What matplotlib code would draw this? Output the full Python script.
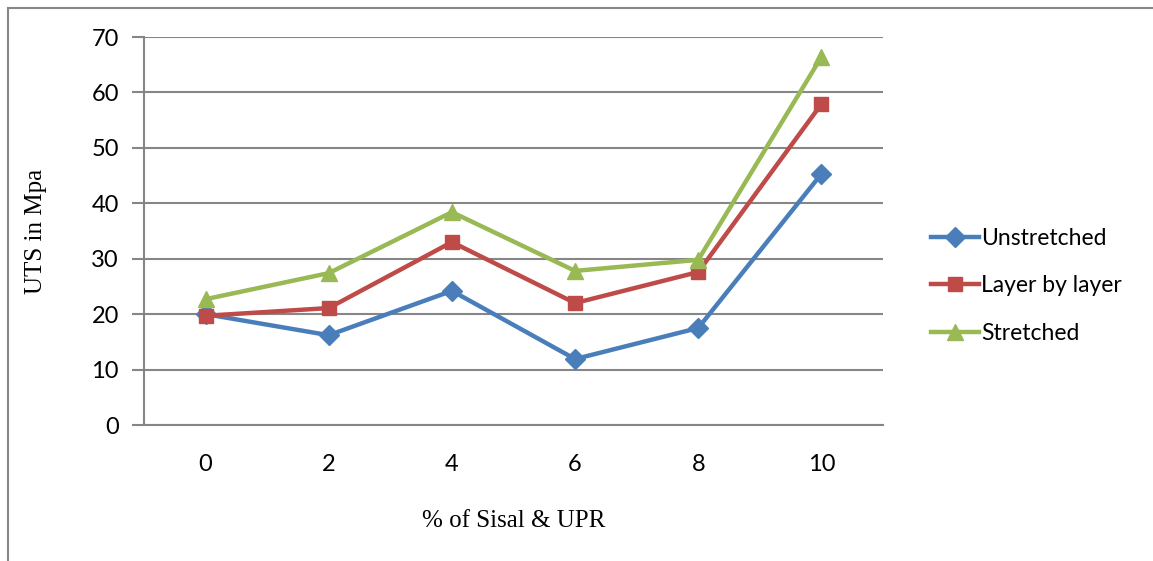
import matplotlib.pyplot as plt
from matplotlib.patches import Rectangle

# data
categories = ['0', '2', '4', '6', '8', '10']
unstretched = [20.0, 16.2, 24.2, 11.9, 17.5, 45.3]
layer_by_layer = [19.7, 21.1, 33.0, 22.0, 27.6, 57.9]
stretched = [22.7, 27.4, 38.4, 27.8, 29.8, 66.4]

W, H = 1153, 561
fig = plt.figure(figsize=(W / 100, H / 100), dpi=100)

# outer chart border (Excel style)
fig.patches.append(Rectangle((8 / W, -0.1), 1.2, 1 - 8 / H + 0.1, transform=fig.transFigure,
                             fill=False, edgecolor='#868686', lw=1.5))

ax = fig.add_axes([144 / W, 1 - 425 / H, (883 - 144) / W, (425 - 37) / H])

x = list(range(len(categories)))
ax.plot(x, unstretched, color='#4A7EBB', lw=3.2, marker='D', ms=10, label='Unstretched')
ax.plot(x, layer_by_layer, color='#BE4B48', lw=3.2, marker='s', ms=10, label='Layer by layer')
ax.plot(x, stretched, color='#98B954', lw=3.2, marker='^', ms=12, label='Stretched')

ax.set_xlim(-0.5, 5.5)
ax.set_ylim(0, 70)
ax.set_yticks(range(0, 71, 10))
ax.set_xticks(x)
ax.set_xticklabels(categories)
ax.yaxis.grid(True, color='#868686', lw=1.5)
ax.set_axisbelow(True)

for s in ['top', 'right']:
    ax.spines[s].set_visible(False)
ax.spines['left'].set_color('#868686')
ax.spines['bottom'].set_color('#868686')
ax.spines['left'].set_linewidth(1.5)
ax.spines['bottom'].set_linewidth(1.5)
ax.tick_params(axis='y', length=9, width=1.5, color='#868686', pad=9, labelsize=17)
ax.tick_params(axis='x', length=0, pad=21, labelsize=17)
for lab in ax.get_xticklabels() + ax.get_yticklabels():
    lab.set_family('Lato')

ax.set_ylabel('UTS in Mpa', family='Liberation Serif', fontsize=18, labelpad=32)
ax.set_xlabel('% of Sisal & UPR', family='Liberation Serif', fontsize=18, labelpad=25)

leg = fig.legend(loc='center left', bbox_to_anchor=(910 / W, 1 - 286 / H), frameon=False,
                 prop={'family': 'Lato', 'size': 16.5}, handlelength=2.1, handletextpad=0.1,
                 labelspacing=1.15)

fig.savefig('out.png', dpi=100)
